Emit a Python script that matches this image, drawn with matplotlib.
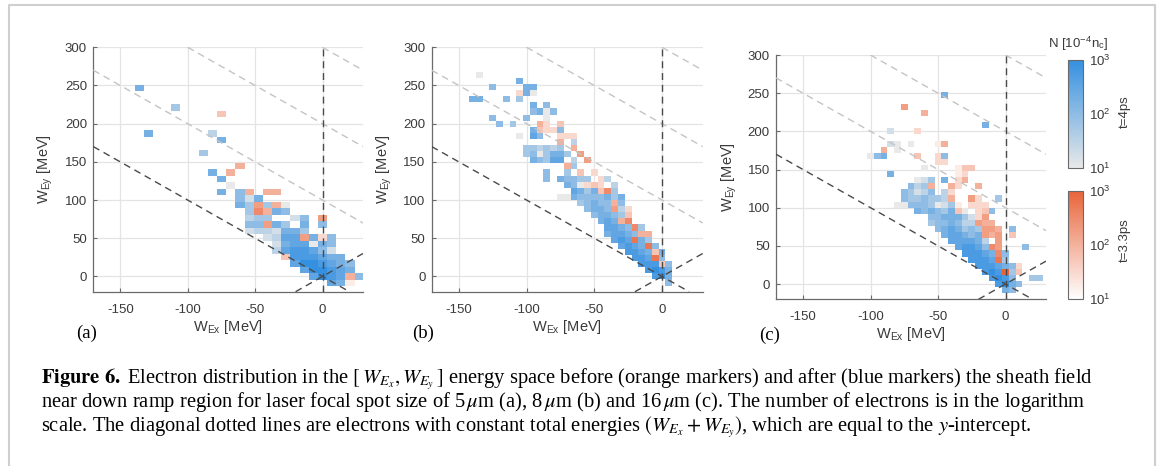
"""Recreate Figure 6: electron distribution in the [W_Ex, W_Ey] energy space.

Three panels (focal spot 5, 8 and 16 um) with log-scaled electron counts
before (orange, t = 3.3 ps) and after (blue, t = 4 ps) the sheath field.
Writes out.png (1165 x 466 px).
"""

import matplotlib
matplotlib.use("Agg")
import matplotlib.pyplot as plt  # noqa: E402
import numpy as np  # noqa: E402
from matplotlib.cm import ScalarMappable  # noqa: E402
from matplotlib.colors import LinearSegmentedColormap, LogNorm  # noqa: E402
from matplotlib.lines import Line2D  # noqa: E402


# =============================================================================
# DATA
# =============================================================================
# Each entry: (row j, first column i, levels). Bin centre = (i*dx, j*dy).
# Level digits 1..9 run log-evenly from N = 10 to N = 1000, "." = empty bin.

# (a) 5 um focal spot
A_BIN = (6.8, 8.5)
A_AFTER = [
    (29, -20, "6"), (26, -16, "4"), (22, -19, "6"), (22, -12, "3"),
    (21, -11, "6"), (19, -13, "4"), (16, -12, "6"), (15, -11, "6"),
    (14, -10, "1"), (13, -11, "6.5"), (12, -9, "526"), (11, -9, "64.4.1"),
    (10, -8, "4..65"), (9, -8, "344.225"), (8, -8, "55.64.6.5"),
    (7, -8, "2332664"), (6, -6, "2377.635"), (5, -5, "2677165"),
    (4, -5, "3788752"), (3, -3, "888766"), (2, -3, "7998765"),
    (1, -2, "799876"), (0, -1, "7987.5"), (-1, 1, "76"),
]
A_BEFORE = [
    (25, -11, "4"), (17, -9, "5"), (16, -10, "5"), (13, -8, "5.55"),
    (11, -7, "6.5"), (10, -7, "75"), (9, -4, "1...6"), (8, -6, "6"),
    (6, -2, "6.3"), (3, -4, "4"), (0, 3, "5"), (-1, 3, "2"),
]

# (b) 8 um focal spot
B_BIN = (5.0, 8.0)
B_AFTER = [
    (33, -27, "1"), (32, -21, "6"), (31, -25, "5....66"), (30, -20, "61"),
    (29, -28, "66...5.4"), (28, -19, "6.5"), (27, -19, "5615"),
    (26, -25, "5....5..1"), (25, -24, "5.4"), (24, -19, "6...5"),
    (23, -21, "1.75"), (22, -13, "3"), (21, -20, "443434"),
    (20, -20, "4514664"), (19, -19, "65477.3"), (18, -13, "4"),
    (17, -17, "5..4"), (16, -17, "5.65544..3"), (15, -14, "651....3"),
    (14, -13, "7646..4"), (13, -15, "1165555646"), (12, -12, "45655.5"),
    (11, -11, "5665.3"), (10, -10, "56654"), (9, -9, "67656"),
    (8, -8, "7765.4"), (7, -8, "67765"), (6, -7, "787.64"),
    (5, -6, "7876.5"), (4, -5, "8876.6"), (3, -4, "887.5"),
    (2, -3, "888.5"), (1, -2, "8986"), (0, -1, "896"), (-1, 1, "5"),
]
B_BEFORE = [
    (30, -21, "3"), (25, -18, "53.4"), (24, -18, "433"), (23, -15, "333"),
    (22, -15, "5"), (21, -13, "5"), (20, -12, "6"), (19, -11, "6"),
    (18, -14, "5"), (17, -12, "4.3"), (16, -9, "3"), (15, -11, "343"),
    (14, -9, "47"), (12, -7, "5"), (11, -7, "6.3"), (10, -5, "4"),
    (9, -6, "57"), (8, -4, "7"), (7, -3, "55"), (6, -4, "8"),
    (5, -2, "8"), (4, -1, "4"), (3, -1, "8"), (2, 0, "4"),
]

# (c) 16 um focal spot
C_BIN = (5.0, 8.0)
C_AFTER = [
    (31, -9, "6"), (26, -3, "6"), (25, -17, "2"), (23, -17, "21.1...1"),
    (22, -16, "1"), (21, -20, "156"), (21, -9, "5"), (19, -12, "1"),
    (18, -17, "6"), (17, -13, "124.6"), (16, -14, "534"),
    (15, -15, "54235.3"), (14, -15, "5445443"), (14, -1, "4"),
    (13, -16, "115554124"), (12, -13, "65654631"), (12, -2, "5"),
    (11, -11, "5566642"), (10, -11, "4556533"), (9, -10, "5676454..5.5"),
    (8, -9, "677656"), (7, -8, "777763"), (6, -7, "78875"), (6, 3, "5"),
    (5, -6, "88876.5"), (4, -5, "8887.4"), (3, -4, "888765"),
    (2, -3, "898.4"), (1, -2, "8985..44"), (0, -1, "8965"), (-1, 0, "65"),
]
C_BEFORE = [
    (29, -15, "6"), (28, -12, "5"), (25, -13, "3"), (23, -10, "25"),
    (22, -18, "5"), (21, -13, "4..3"), (20, -10, "33"), (19, -7, "244"),
    (18, -7, "23"), (17, -7, "35"), (16, -11, "5..53..5"), (15, -8, "3"),
    (14, -8, "5..63"), (13, -7, "2.333"), (12, -7, "4..34"), (11, -4, "36"),
    (10, -4, "655"), (9, -3, "665"), (8, -3, "656.4"), (7, -1, "6"),
    (6, -2, "76"), (5, -1, "7"), (4, -1, "8"), (3, 2, "3"), (2, 0, "9.4"),
]

PANEL_LABELS = ["(a)", "(b)", "(c)"]
DIAG_LEVELS = [0, 100, 200, 300]      # W_Ex + W_Ey = const
X_TICKS = [-150, -100, -50, 0]
Y_TICKS = [0, 50, 100, 150, 200, 250, 300]
X_LIM = (-170, 30)
Y_LIM = (-20, 300)
CBAR_TICKS = [10, 100, 1000]

CAPTION = [
    r"$\mathbf{Figure\ 6.}$ Electron distribution in the $[\,W_{E_x},W_{E_y}\,]$"
    r" energy space before (orange markers) and after (blue markers) the sheath field",
    r"near down ramp region for laser focal spot size of 5$\,\mu$m (a), 8$\,\mu$m (b)"
    r" and 16$\,\mu$m (c). The number of electrons is in the logarithm",
    r"scale. The diagonal dotted lines are electrons with constant total energies"
    r" $(W_{E_x}+W_{E_y})$, which are equal to the $y$-intercept.",
]


# =============================================================================
# STYLE
# =============================================================================
W_PX, H_PX = 1165, 466
plt.rcParams["font.family"] = ["Liberation Sans", "DejaVu Sans"]
plt.rcParams["mathtext.fontset"] = "stix"
plt.rcParams["axes.unicode_minus"] = False

BLUE_CMAP = LinearSegmentedColormap.from_list("after", ["#e9e9e9", "#3490e0"])
ORANGE_CMAP = LinearSegmentedColormap.from_list("before", ["#ffffff", "#e8643a"])
NORM = LogNorm(vmin=10, vmax=1000)
TEXT_GREY = "#3a3a3a"
DARK_DASH = "#4a4a4a"
LIGHT_DASH = "#c4c4c4"


def _px_box(left, top, right, bottom):
    return [left / W_PX, 1 - bottom / H_PX, (right - left) / W_PX, (bottom - top) / H_PX]


def _px(x, y):
    return x / W_PX, 1 - y / H_PX


def _bins_to_mesh(segments, bin_size):
    dx, dy = bin_size
    cells = {}
    for j, i0, levels in segments:
        for k, ch in enumerate(levels):
            if ch != ".":
                cells[(i0 + k, j)] = 10.0 ** (1.0 + (int(ch) - 1) / 4.0)
    i_lo = min(i for i, _ in cells)
    i_hi = max(i for i, _ in cells)
    j_lo = min(j for _, j in cells)
    j_hi = max(j for _, j in cells)
    grid = np.full((j_hi - j_lo + 1, i_hi - i_lo + 1), np.nan)
    for (i, j), n in cells.items():
        grid[j - j_lo, i - i_lo] = n
    x_edges = (np.arange(i_lo, i_hi + 2) - 0.5) * dx
    y_edges = (np.arange(j_lo, j_hi + 2) - 0.5) * dy
    return x_edges, y_edges, np.ma.masked_invalid(grid)


def _draw_panel(ax, after, before, bin_size):
    for segments, cmap, z in ((after, BLUE_CMAP, 2), (before, ORANGE_CMAP, 3)):
        xe, ye, grid = _bins_to_mesh(segments, bin_size)
        ax.pcolormesh(xe, ye, grid, cmap=cmap, norm=NORM, shading="flat", zorder=z)

    dash = dict(linewidth=1.0, dashes=(5, 3.5), zorder=4)
    for level in DIAG_LEVELS:
        color = DARK_DASH if level == 0 else LIGHT_DASH
        ax.axline((0, level), slope=-1, color=color, **dash)
    ax.axline((0, 0), slope=1, color=DARK_DASH, **dash)
    ax.axvline(0, color=DARK_DASH, **dash)

    ax.set_xlim(*X_LIM)
    ax.set_ylim(*Y_LIM)
    ax.set_xticks(X_TICKS)
    ax.set_yticks(Y_TICKS)
    ax.grid(True, color="#e4e4e4", linewidth=0.9, zorder=0)
    ax.set_axisbelow(True)
    for side in ("top", "right"):
        ax.spines[side].set_visible(False)
    for side in ("left", "bottom"):
        ax.spines[side].set_color("#6a6a6a")
        ax.spines[side].set_linewidth(0.9)
    ax.tick_params(direction="in", length=3, color="#6a6a6a",
                   labelsize=9.5, labelcolor=TEXT_GREY)
    ax.tick_params(axis="x", pad=8.5)
    ax.tick_params(axis="y", pad=4.5)


def _draw_colorbar(fig, box, cmap, label, label_y):
    cax = fig.add_axes(_px_box(*box))
    cb = fig.colorbar(ScalarMappable(norm=NORM, cmap=cmap), cax=cax)
    cb.set_ticks(CBAR_TICKS)
    cb.outline.set_edgecolor("#6a6a6a")
    cb.outline.set_linewidth(0.8)
    cax.tick_params(which="both", length=0, labelsize=9.5, labelcolor=TEXT_GREY, pad=4)
    fig.text(*_px(1125, label_y), label, rotation=90, ha="center", va="center",
             fontsize=9.5, color=TEXT_GREY)


def main():
    fig = plt.figure(figsize=(W_PX / 100, H_PX / 100), dpi=100)

    # outer frame of the figure box
    fx = [9 / W_PX, 9 / W_PX, 1155 / W_PX, 1155 / W_PX]
    fy = [0, 1 - 5 / H_PX, 1 - 5 / H_PX, 0]
    fig.add_artist(Line2D(fx, fy, color="#cfcfcf", linewidth=1.5))

    panels = [
        (A_AFTER, A_BEFORE, A_BIN, (93.3, 47.3, 363.0, 291.7)),
        (B_AFTER, B_BEFORE, B_BIN, (431.7, 47.3, 702.7, 291.7)),
        (C_AFTER, C_BEFORE, C_BIN, (776.0, 55.0, 1046.0, 299.3)),
    ]
    ylabel_x = [45, 384, 729]
    xlabel_y = [331, 331, 338]
    letter_pos = [(87, 333), (423, 333), (770, 335)]

    for k, (after, before, bin_size, box) in enumerate(panels):
        ax = fig.add_axes(_px_box(*box))
        _draw_panel(ax, after, before, bin_size)
        left, top, right, bottom = box
        fig.text(*_px((left + right) / 2, xlabel_y[k]), r"W$_{\mathregular{Ex}}$ [MeV]",
                 ha="center", va="baseline", fontsize=10.5, color=TEXT_GREY)
        fig.text(*_px(ylabel_x[k], (top + bottom) / 2), r"W$_{\mathregular{Ey}}$ [MeV]",
                 rotation=90, ha="center", va="center", fontsize=10.5, color=TEXT_GREY)
        fig.text(*_px(*letter_pos[k]), PANEL_LABELS[k], ha="center", va="center",
                 fontsize=13.5, family="Liberation Serif", color="black")

    _draw_colorbar(fig, (1068.3, 60.0, 1083.3, 168.3), BLUE_CMAP, "t=4ps", 112)
    _draw_colorbar(fig, (1068.3, 190.7, 1083.3, 299.0), ORANGE_CMAP, "t=3.3ps", 240)
    fig.text(*_px(1078, 44), r"N [10$^{\mathregular{-4}}$n$_{\mathregular{c}}$]",
             ha="center", va="center", fontsize=9.5, color=TEXT_GREY)

    for line, y in zip(CAPTION, (383.5, 407.5, 431.5)):
        fig.text(*_px(41, y), line, ha="left", va="baseline", fontsize=14.8,
                 family="Liberation Serif", color="black")

    fig.savefig("out.png", dpi=100)


if __name__ == "__main__":
    main()
